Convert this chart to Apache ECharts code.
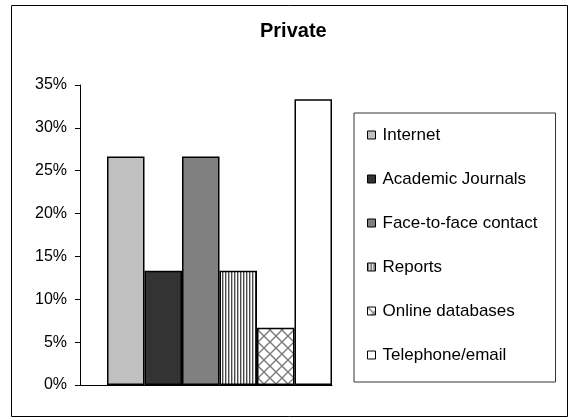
<!DOCTYPE html>
<html>
<head>
<meta charset="utf-8">
<script src="https://cdn.jsdelivr.net/npm/echarts@6/dist/echarts.min.js"></script>
<style>
  html, body { margin: 0; padding: 0; background: #fff; }
  #chart { width: 569px; height: 418px; }
</style>
</head>
<body>
<div id="chart"></div>
<script>
// Sources of information used by private-sector respondents (share of responses, %)
const sources = ['Internet', 'Academic Journals', 'Face-to-face contact', 'Reports', 'Online databases', 'Telephone/email'];
const shares = [26.67, 13.33, 26.67, 13.33, 6.67, 33.33];
const yTicks = [0, 5, 10, 15, 20, 25, 30, 35];

const FONT = '"Liberation Sans", Arial, sans-serif';

// Fill patterns drawn on small tiles
function stripeTile() {
  const c = document.createElement('canvas');
  c.width = 3; c.height = 4;
  const g = c.getContext('2d');
  g.fillStyle = '#ffffff'; g.fillRect(0, 0, 3, 4);
  g.fillStyle = '#4a4a4a'; g.fillRect(0, 0, 1, 4);
  g.fillStyle = '#b8b8b8'; g.fillRect(1, 0, 1, 4);
  return c;
}
function hatchTile() {
  const s = 12;
  const c = document.createElement('canvas');
  c.width = s; c.height = s;
  const g = c.getContext('2d');
  g.fillStyle = '#ffffff'; g.fillRect(0, 0, s, s);
  g.strokeStyle = '#7a7a7a'; g.lineWidth = 1.4;
  g.beginPath();
  g.moveTo(-1, -1); g.lineTo(s + 1, s + 1);
  g.moveTo(s + 1, -1); g.lineTo(-1, s + 1);
  g.stroke();
  return c;
}

const fills = [
  '#c0c0c0',
  '#333333',
  '#808080',
  { image: stripeTile(), repeat: 'repeat' },
  { image: hatchTile(), repeat: 'repeat' },
  '#ffffff'
];

const chart = echarts.init(document.getElementById('chart'), null, { renderer: 'canvas' });

const series = sources.map((name, i) => ({
  name: name,
  type: 'bar',
  data: [[i + 0.5, shares[i]]],
  barWidth: 37.5,
  barGap: '-100%',
  itemStyle: { color: fills[i], borderColor: '#000', borderWidth: 1.5 },
  emphasis: { disabled: true }
}));

chart.setOption({
  animation: false,
  backgroundColor: '#ffffff',
  title: {
    text: 'Private',
    left: 260,
    top: 21,
    padding: 0,
    textStyle: { fontFamily: FONT, fontSize: 20, fontWeight: 'bold', color: '#000' }
  },
  graphic: [{
    type: 'rect',
    shape: { x: 11.5, y: 5.5, width: 556, height: 411 },
    style: { fill: null, stroke: '#000', lineWidth: 1 },
    silent: true
  }],
  legend: {
    orient: 'vertical',
    left: 354,
    top: 113,
    padding: [12, 3, 17, 13],
    itemGap: 24,
    itemWidth: 8,
    itemHeight: 8,
    icon: 'rect',
    backgroundColor: '#fff',
    borderColor: '#333',
    borderWidth: 1,
    itemStyle: { borderColor: '#000', borderWidth: 1 },
    textStyle: { fontFamily: FONT, fontSize: 17, color: '#000', lineHeight: 20, width: 170, padding: [0, 0, 0, 2] },
    data: sources
  },
  grid: { left: 80, right: 237, top: 85, bottom: 33, containLabel: false },
  xAxis: {
    type: 'value',
    min: -0.72,
    max: 6,
    axisLine: { show: true, onZero: false, lineStyle: { color: '#000', width: 1 } },
    axisTick: { show: false },
    axisLabel: { show: false },
    splitLine: { show: false }
  },
  yAxis: {
    type: 'value',
    min: yTicks[0],
    max: yTicks[yTicks.length - 1],
    interval: yTicks[1] - yTicks[0],
    axisLine: { show: true, onZero: false, lineStyle: { color: '#000', width: 1 } },
    axisTick: { show: true, inside: false, length: 5, lineStyle: { color: '#000' } },
    axisLabel: { margin: 13, fontFamily: FONT, fontSize: 16, color: '#000', formatter: '{value}%' },
    splitLine: { show: false }
  },
  series: series
});
</script>
</body>
</html>
